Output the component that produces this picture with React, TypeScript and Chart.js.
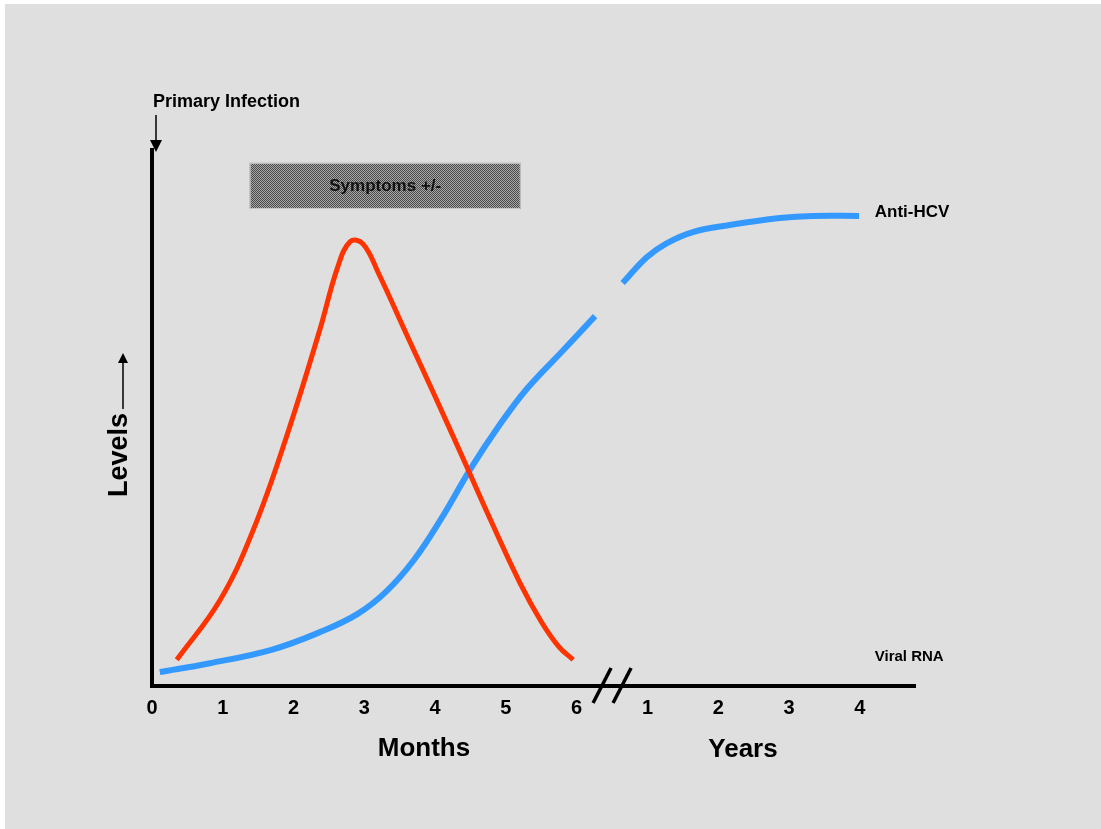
import React, { useEffect, useRef } from "react";
import { Chart, registerables } from "chart.js";

Chart.register(...registerables);

// ---- data (x: 0..6 = months, 7..10 = years 1..4) ----
const viralRnaX = [0.35, 0.96, 1.43, 1.9, 2.37, 2.62, 2.8, 2.98, 3.2, 3.6, 4.0, 4.4, 4.8, 5.2, 5.5, 5.75, 5.95];
const viralRnaY = [4.9, 16.0, 29.1, 46.5, 66.4, 78.0, 82.9, 82.5, 77.0, 65.5, 54.0, 42.3, 30.5, 19.2, 12.0, 7.3, 4.9];

const antiHcvX = [0.11, 0.8, 1.7, 2.4, 2.9, 3.3, 3.7, 4.1, 4.5, 4.9, 5.3, 5.8, 6.26, 6.45, 6.65, 6.99, 7.27, 7.64, 8.16, 8.87, 9.34, 9.99];
const antiHcvY: (number | null)[] = [2.6, 4.2, 6.8, 10.2, 13.4, 17.5, 23.5, 31.5, 40.5, 48.5, 55.5, 62.5, 69.0, null, 75.2, 80.0, 82.6, 84.7, 86.0, 87.3, 87.7, 87.7];

const tickPositions = [0, 1, 2, 3, 4, 5, 6, 7, 8, 9, 10];
const tickLabels = ["0", "1", "2", "3", "4", "5", "6", "1", "2", "3", "4"];

const symptomsRange = [1.38, 5.21];
const symptomsLevels = [89.0, 97.6];

const FONT = "'Liberation Sans', Arial, sans-serif";

function arrowHead(ctx: CanvasRenderingContext2D, x: number, y: number, dir: "up" | "down") {
  ctx.beginPath();
  if (dir === "down") {
    ctx.moveTo(x - 6, y - 12);
    ctx.lineTo(x + 6, y - 12);
    ctx.lineTo(x, y);
  } else {
    ctx.moveTo(x - 5, y + 10);
    ctx.lineTo(x + 5, y + 10);
    ctx.lineTo(x, y);
  }
  ctx.closePath();
  ctx.fill();
}

const decorPlugin = {
  id: "decor",
  beforeDraw(chart: any) {
    const ctx: CanvasRenderingContext2D = chart.ctx;
    ctx.save();
    ctx.fillStyle = "#ffffff";
    ctx.fillRect(0, 0, chart.width, chart.height);
    ctx.fillStyle = "#dfdfdf";
    ctx.fillRect(5, 4, chart.width - 5, chart.height - 4);
    ctx.restore();
  },
  afterDraw(chart: any) {
    const ctx: CanvasRenderingContext2D = chart.ctx;
    const xs = chart.scales.x;
    const ys = chart.scales.y;
    const area = chart.chartArea;
    ctx.save();

    // Symptoms box
    const bx0 = xs.getPixelForValue(symptomsRange[0]);
    const bx1 = xs.getPixelForValue(symptomsRange[1]);
    const by0 = ys.getPixelForValue(symptomsLevels[1]);
    const by1 = ys.getPixelForValue(symptomsLevels[0]);
    const pc = document.createElement("canvas");
    pc.width = 2;
    pc.height = 2;
    const pctx = pc.getContext("2d")!;
    pctx.fillStyle = "#a8a8a8";
    pctx.fillRect(0, 0, 2, 2);
    pctx.fillStyle = "#4a4a4a";
    pctx.fillRect(0, 0, 1, 1);
    pctx.fillRect(1, 1, 1, 1);
    const pat = ctx.createPattern(pc, "repeat");
    ctx.fillStyle = pat || "#888";
    ctx.fillRect(bx0, by0, bx1 - bx0, by1 - by0);
    ctx.strokeStyle = "#c8c8c8";
    ctx.lineWidth = 1;
    ctx.strokeRect(bx0 + 0.5, by0 + 0.5, bx1 - bx0 - 1, by1 - by0 - 1);
    ctx.fillStyle = "#111";
    ctx.font = `bold 17px ${FONT}`;
    ctx.textAlign = "center";
    ctx.textBaseline = "middle";
    ctx.fillText("Symptoms +/-", (bx0 + bx1) / 2, (by0 + by1) / 2);

    // Primary infection
    ctx.fillStyle = "#000";
    ctx.font = `bold 18px ${FONT}`;
    ctx.textAlign = "left";
    ctx.textBaseline = "middle";
    ctx.fillText("Primary Infection", area.left + 1, 102);
    const ax = area.left + 4;
    ctx.strokeStyle = "#000";
    ctx.lineWidth = 1.5;
    ctx.beginPath();
    ctx.moveTo(ax, 115);
    ctx.lineTo(ax, 142);
    ctx.stroke();
    arrowHead(ctx, ax, 152, "down");

    // Levels label (rotated)
    ctx.font = `bold 27px ${FONT}`;
    const lw = ctx.measureText("Levels").width;
    const lx = 120;
    const lyBottom = 497;
    ctx.save();
    ctx.translate(lx, lyBottom);
    ctx.rotate(-Math.PI / 2);
    ctx.textAlign = "left";
    ctx.textBaseline = "middle";
    ctx.fillText("Levels", 0, 0);
    ctx.restore();
    const lineStart = lyBottom - lw - 4;
    ctx.lineWidth = 1.5;
    ctx.beginPath();
    ctx.moveTo(lx + 3, lineStart);
    ctx.lineTo(lx + 3, 362);
    ctx.stroke();
    arrowHead(ctx, lx + 3, 353, "up");

    // Axis break marks
    const bc = xs.getPixelForValue(6.5);
    const yb = area.bottom;
    ctx.lineWidth = 3.5;
    ctx.lineCap = "butt";
    for (const off of [-10, 10]) {
      ctx.beginPath();
      ctx.moveTo(bc + off - 9, yb + 17);
      ctx.lineTo(bc + off + 9, yb - 18);
      ctx.stroke();
    }

    // Axis titles
    ctx.font = `bold 26px ${FONT}`;
    ctx.textAlign = "center";
    ctx.textBaseline = "middle";
    ctx.fillText("Months", 424, 749);
    ctx.fillText("Years", 743, 750);

    // Series labels
    ctx.textAlign = "left";
    ctx.font = `bold 17px ${FONT}`;
    ctx.fillText("Anti-HCV", xs.getPixelForValue(10) + 15, 212);
    ctx.font = `bold 15px ${FONT}`;
    ctx.fillText("Viral RNA", xs.getPixelForValue(10) + 15, 657);

    ctx.restore();
  },
};

export default function App() {
  const ref = useRef<HTMLCanvasElement | null>(null);
  useEffect(() => {
    if (!ref.current) return;
    const chart = new Chart(ref.current, {
      type: "line",
      data: {
        datasets: [
          {
            label: "Viral RNA",
            data: viralRnaX.map((x, i) => ({ x, y: viralRnaY[i] })),
            borderColor: "#ff3300",
            borderWidth: 5,
            pointRadius: 0,
            tension: 0.4,
            borderCapStyle: "butt",
            fill: false,
          },
          {
            label: "Anti-HCV",
            data: antiHcvX.map((x, i) => ({ x, y: antiHcvY[i] })),
            borderColor: "#3399ff",
            borderWidth: 6,
            pointRadius: 0,
            tension: 0.4,
            borderCapStyle: "butt",
            spanGaps: false,
            fill: false,
          },
        ],
      } as any,
      options: {
        responsive: false,
        animation: false,
        layout: { padding: { left: 152, right: 186, top: 150, bottom: 99 } },
        plugins: { legend: { display: false }, tooltip: { enabled: false } },
        scales: {
          x: {
            type: "linear",
            min: 0,
            max: 10.78,
            grid: { display: false, drawTicks: false },
            border: { display: true, color: "#000", width: 4 },
            afterBuildTicks: (scale: any) => {
              scale.ticks = tickPositions.map((v) => ({ value: v }));
            },
            ticks: {
              padding: 10,
              color: "#000",
              font: { family: FONT, size: 20, weight: "bold" },
              autoSkip: false,
              maxRotation: 0,
              callback: (v: any) => {
                const i = tickPositions.indexOf(Number(v));
                return i >= 0 ? tickLabels[i] : "";
              },
            },
          },
          y: {
            type: "linear",
            min: 0,
            max: 100,
            grid: { display: false, drawTicks: false },
            border: { display: true, color: "#000", width: 4 },
            ticks: { display: false },
          },
        },
      } as any,
      plugins: [decorPlugin],
    });
    return () => chart.destroy();
  }, []);
  return (
    <div style={{ position: "absolute", left: 0, top: 0, width: 1101, height: 829 }}>
      <canvas ref={ref} width={1101} height={829} style={{ display: "block", width: 1101, height: 829 }} />
    </div>
  );
}
